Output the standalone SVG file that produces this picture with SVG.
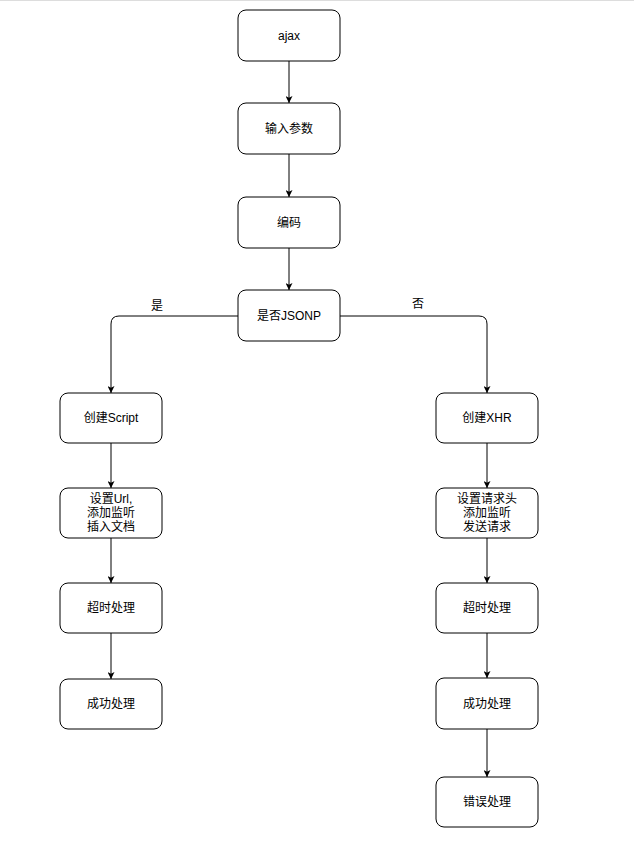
<svg xmlns="http://www.w3.org/2000/svg" width="634" height="846" viewBox="0 0 634 846">
<defs>
<marker id="arr" viewBox="0 0 10 10" refX="10" refY="5" markerWidth="7" markerHeight="7" markerUnits="userSpaceOnUse" orient="auto">
<path d="M0,0 L10,5 L0,10 L2.5,5 Z" fill="#000"/>
</marker>
</defs>
<style>
.box{fill:#fff;stroke:#000;stroke-width:1}
.t{font-family:"Liberation Sans","Noto Sans CJK SC",sans-serif;font-size:12px;fill:#000;text-anchor:middle;dominant-baseline:central}
.c{fill:none;stroke:#000;stroke-width:1;marker-end:url(#arr)}
</style>
<rect x="0" y="0" width="634" height="846" fill="#fff"/>
<line x1="0" y1="0.5" x2="634" y2="0.5" stroke="#ddd" stroke-width="1"/>
<g id="connectors">
<path class="c" d="M289,61 V103"/>
<path class="c" d="M289,154 V197"/>
<path class="c" d="M289,248 V290"/>
<path class="c" d="M238,316 H119 Q111,316 111,324 V393"/>
<path class="c" d="M340,316 H479 Q487,316 487,324 V393"/>
<path class="c" d="M111,443 V488"/>
<path class="c" d="M111,538 V583"/>
<path class="c" d="M111,633 V679"/>
<path class="c" d="M487,443 V488"/>
<path class="c" d="M487,538 V583"/>
<path class="c" d="M487,633 V678"/>
<path class="c" d="M487,729 V777"/>
<text class="t" x="157" y="306">是</text>
<text class="t" x="418" y="304">否</text>
</g>
<g id="ajax"><rect class="box" x="238" y="10" width="102" height="51" rx="8"/><text class="t" x="289" y="36">ajax</text></g>
<g id="input"><rect class="box" x="238" y="103" width="102" height="51" rx="8"/><text class="t" x="289" y="129">输入参数</text></g>
<g id="encode"><rect class="box" x="238" y="197" width="102" height="51" rx="8"/><text class="t" x="289" y="223">编码</text></g>
<g id="jsonp"><rect class="box" x="238" y="290" width="102" height="51" rx="8"/><text class="t" x="289" y="316">是否JSONP</text></g>
<g id="script"><rect class="box" x="60" y="393" width="102" height="50" rx="8"/><text class="t" x="111" y="418">创建Script</text></g>
<g id="setScript"><rect class="box" x="60" y="488" width="102" height="50" rx="8"/><text class="t" x="111" y="499">设置Url,</text><text class="t" x="111" y="513">添加监听</text><text class="t" x="111" y="527">插入文档</text></g>
<g id="timeoutL"><rect class="box" x="60" y="583" width="102" height="50" rx="8"/><text class="t" x="111" y="608">超时处理</text></g>
<g id="successL"><rect class="box" x="60" y="679" width="102" height="50" rx="8"/><text class="t" x="111" y="704">成功处理</text></g>
<g id="xhr"><rect class="box" x="436" y="393" width="102" height="50" rx="8"/><text class="t" x="487" y="418">创建XHR</text></g>
<g id="setXhr"><rect class="box" x="436" y="488" width="102" height="50" rx="8"/><text class="t" x="487" y="499">设置请求头</text><text class="t" x="487" y="513">添加监听</text><text class="t" x="487" y="527">发送请求</text></g>
<g id="timeoutR"><rect class="box" x="436" y="583" width="102" height="50" rx="8"/><text class="t" x="487" y="608">超时处理</text></g>
<g id="successR"><rect class="box" x="436" y="678" width="102" height="51" rx="8"/><text class="t" x="487" y="704">成功处理</text></g>
<g id="error"><rect class="box" x="436" y="777" width="102" height="50" rx="8"/><text class="t" x="487" y="802">错误处理</text></g>
</svg>
